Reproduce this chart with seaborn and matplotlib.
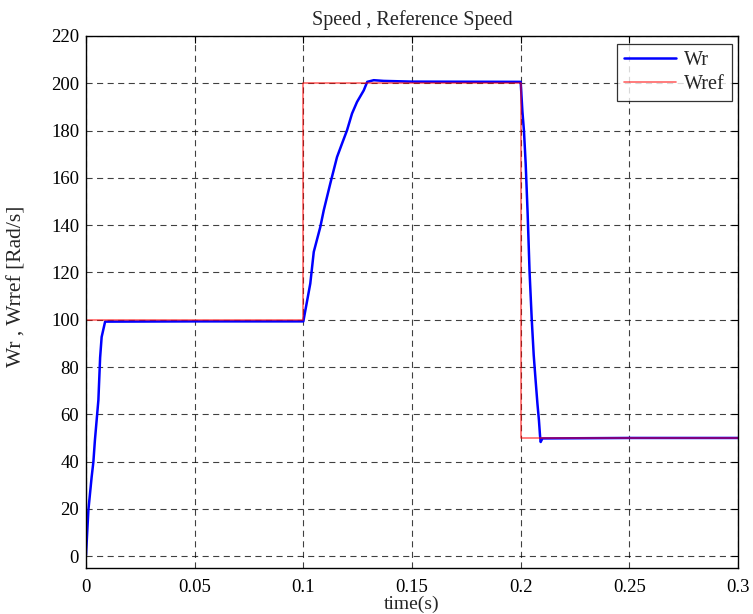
import matplotlib
matplotlib.use("Agg")
import matplotlib.pyplot as plt
import seaborn as sns
import pandas as pd

# Rotor speed response (s, rad/s)
wr_time = [0.0, 0.0011, 0.0026, 0.0034, 0.0041, 0.0057, 0.0065, 0.0072, 0.0088,
           0.0500, 0.1000, 0.1001, 0.1032, 0.1048, 0.1078, 0.1094, 0.1124, 0.1155,
           0.1178, 0.1201, 0.1224, 0.1247, 0.1278, 0.1294, 0.1324, 0.1370, 0.1500,
           0.2000, 0.2008, 0.2015, 0.2023, 0.2032, 0.2041, 0.2051, 0.2060, 0.2069,
           0.2077, 0.2084, 0.2089, 0.2092, 0.2100, 0.2500, 0.3000]
wr_speed = [0.4, 19.5, 33.5, 39.9, 49.0, 66.0, 84.0, 92.7, 99.2,
            99.3, 99.3, 99.8, 115.3, 128.7, 139.2, 146.3, 157.6, 168.8,
            174.5, 180.1, 187.2, 192.1, 197.0, 200.6, 201.3, 201.0, 200.7,
            200.6, 188.0, 180.0, 166.0, 145.0, 120.0, 100.0, 85.0, 74.0,
            64.6, 57.5, 51.0, 48.3, 49.8, 50.0, 50.0]

# Speed reference steps
ref_time = [0.0, 0.1, 0.2, 0.3]
ref_speed = [100, 200, 50, 50]

x_ticks = [0, 0.05, 0.1, 0.15, 0.2, 0.25, 0.3]
x_tick_labels = ["0", "0.05", "0.1", "0.15", "0.2", "0.25", "0.3"]
y_ticks = list(range(0, 221, 20))

sns.set_style("white")
plt.rcParams["font.family"] = ["Liberation Serif", "DejaVu Serif"]

wr_df = pd.DataFrame({"t": wr_time, "w": wr_speed})
ref_df = pd.DataFrame({"t": ref_time, "w": ref_speed})

fig = plt.figure(figsize=(7.53, 6.14), dpi=100)
ax = fig.add_axes([0.1142, 0.0749, 0.8659, 0.8665])

sns.lineplot(data=wr_df, x="t", y="w", ax=ax, color="#0000ff", linewidth=1.8,
             estimator=None, sort=False, label="Wr")
sns.lineplot(data=ref_df, x="t", y="w", ax=ax, color="#ff0000", alpha=0.6,
             linewidth=1.2, estimator=None, sort=False, drawstyle="steps-post",
             label="Wref")

ax.set_xlim(0, 0.3)
ax.set_ylim(-5, 220)
ax.set_xticks(x_ticks)
ax.set_xticklabels(x_tick_labels)
ax.set_yticks(y_ticks)

ax.grid(True, color="black", linestyle=(0, (5.5, 4)), linewidth=0.8, alpha=0.75)
ax.tick_params(direction="in", length=5, width=0.8, labelsize=13.5,
               top=True, right=True, colors="black")
ax.tick_params(axis="x", pad=8)
ax.tick_params(axis="y", pad=5)
for s in ax.spines.values():
    s.set_color("black")
    s.set_linewidth(1.0)

ax.set_title("Speed , Reference Speed", fontsize=14.5, pad=8)
ax.set_xlabel("time(s)", fontsize=14)
ax.xaxis.set_label_coords(0.5, -0.052)
ax.set_ylabel("Wr , Wrref [Rad/s]", fontsize=15.5)
ax.yaxis.set_label_coords(-0.092, 0.53)

leg = ax.legend(loc="upper right", bbox_to_anchor=(0.991, 0.985), fontsize=14.5,
                frameon=True, fancybox=False, borderaxespad=0.0,
                handlelength=2.6, handletextpad=0.4, borderpad=0.35,
                labelspacing=0.25)
leg.get_frame().set_edgecolor("black")
leg.get_frame().set_linewidth(0.9)

fig.savefig("out.png", dpi=100)
